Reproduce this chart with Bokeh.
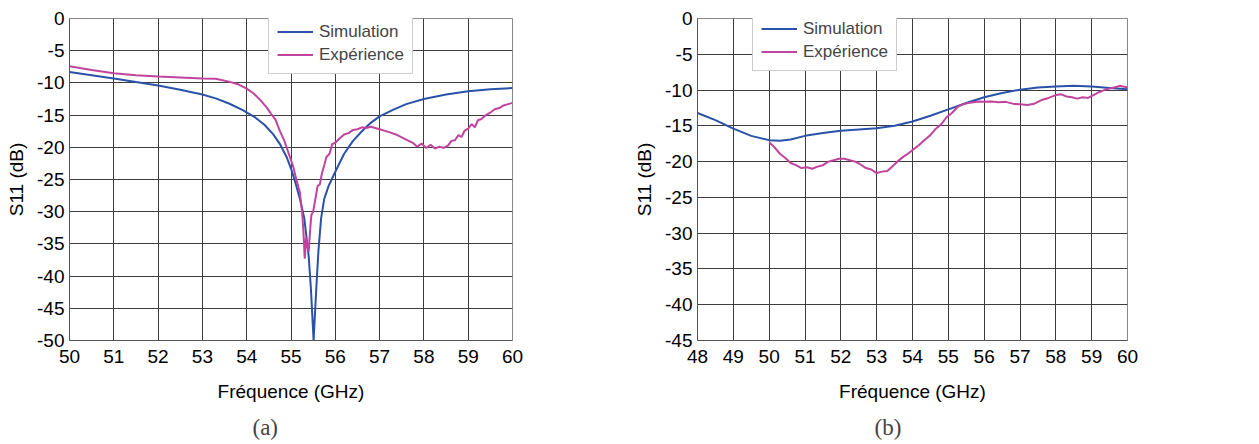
from bokeh.plotting import figure
from bokeh.layouts import row
from bokeh.models import Legend, LegendItem, Title, Range1d, FixedTicker
from bokeh.embed import file_html
from bokeh.resources import INLINE

# ---- data (a) ----
a_sim_f = [50, 50.5, 51, 51.5, 52, 52.5, 53, 53.3, 53.6, 53.9, 54.2, 54.4, 54.6, 54.75, 54.9, 55.0,
           55.1, 55.2, 55.3, 55.4, 55.45, 55.51, 55.57, 55.62, 55.68, 55.75, 55.85, 56.0, 56.2,
           56.4, 56.6, 56.8, 57.0, 57.3, 57.6, 58.0, 58.5, 59.0, 59.5, 60.0]
a_sim_s = [-8.3, -8.8, -9.3, -9.85, -10.4, -11.05, -11.8, -12.4, -13.2, -14.2, -15.4, -16.5, -18.0,
           -19.5, -21.5, -23.3, -25.5, -28.0, -31.0, -37.0, -42.0, -50.0, -42.0, -36.0, -31.0, -28.0,
           -26.0, -23.8, -21.0, -19.0, -17.5, -16.2, -15.2, -14.2, -13.3, -12.5, -11.8, -11.3, -11.0,
           -10.8]
a_exp_f = [50, 50.5, 51, 51.5, 52, 52.5, 53, 53.3, 53.6, 53.8, 54, 54.15, 54.3, 54.45, 54.55, 54.65,
           54.75, 54.85, 54.95, 55.05, 55.12, 55.2, 55.25, 55.28, 55.31, 55.34, 55.37, 55.4, 55.43,
           55.46, 55.5, 55.55, 55.6, 55.65, 55.7, 55.75, 55.8, 55.87, 55.93, 56.0, 56.1, 56.2, 56.3,
           56.4, 56.5, 56.6, 56.7, 56.8, 57.0, 57.2, 57.4, 57.6, 57.75, 57.85, 57.95, 58.05, 58.15,
           58.25, 58.35, 58.45, 58.55, 58.62, 58.7, 58.78, 58.85, 58.92, 59.0, 59.08, 59.15, 59.22,
           59.3, 59.4, 59.5, 59.6, 59.7, 59.8, 59.9, 60.0]
a_exp_s = [-7.4, -8.0, -8.5, -8.8, -9.0, -9.15, -9.3, -9.35, -9.8, -10.2, -10.9, -11.6, -12.6, -13.8,
           -14.8, -15.7, -17.5, -19.0, -21.0, -23.0, -25.0, -27.0, -30.0, -33.0, -37.3, -34.0, -35.5,
           -36.2, -33.0, -30.5, -30.0, -28.0, -26.0, -25.8, -24.0, -22.8, -21.5, -21.0, -19.5, -19.3,
           -18.6, -18.0, -17.8, -17.3, -17.2, -16.9, -17.0, -16.8, -17.2, -17.6, -18.1, -18.8, -19.3,
           -19.9, -19.4, -20.1, -19.6, -20.2, -19.9, -20.1, -19.7, -19.0, -18.9, -18.1, -18.4, -17.4,
           -17.1, -16.4, -16.9, -15.8, -15.6, -15.0, -14.6, -14.1, -13.9, -13.5, -13.3, -13.1]

# ---- data (b) ----
b_sim_f = [48, 48.5, 49, 49.5, 50, 50.3, 50.6, 51, 51.5, 52, 52.5, 53, 53.5, 54, 54.5, 55, 55.5,
           56, 56.5, 57, 57.5, 58, 58.5, 59, 59.5, 60]
b_sim_s = [-13.2, -14.2, -15.4, -16.4, -17.0, -17.1, -16.9, -16.4, -16.0, -15.7, -15.5, -15.35,
           -15.0, -14.4, -13.6, -12.7, -11.8, -11.0, -10.4, -9.95, -9.65, -9.5, -9.4, -9.5, -9.7, -9.9]
b_exp_f = [50, 50.15, 50.3, 50.45, 50.6, 50.75, 50.9, 51.05, 51.2, 51.35, 51.5, 51.65, 51.8, 51.95,
           52.1, 52.25, 52.4, 52.55, 52.7, 52.85, 53.0, 53.15, 53.3, 53.45, 53.6, 53.75, 53.9, 54.05,
           54.2, 54.35, 54.5, 54.65, 54.8, 54.95, 55.1, 55.25, 55.4, 55.55, 55.7, 55.85, 56.0, 56.2,
           56.4, 56.6, 56.8, 57.0, 57.2, 57.4, 57.6, 57.8, 58.0, 58.15, 58.3, 58.45, 58.6, 58.75,
           58.9, 59.05, 59.2, 59.35, 59.5, 59.65, 59.8, 59.9, 60.0]
b_exp_s = [-17.3, -18.0, -18.9, -19.5, -20.2, -20.5, -20.9, -20.8, -21.0, -20.7, -20.5, -20.0, -19.8,
           -19.6, -19.6, -19.8, -20.0, -20.4, -20.9, -21.1, -21.6, -21.4, -21.3, -20.6, -19.9, -19.3,
           -18.8, -18.2, -17.6, -16.9, -16.3, -15.4, -14.8, -13.8, -13.2, -12.4, -12.0, -11.8, -11.7,
           -11.6, -11.65, -11.6, -11.7, -11.65, -11.9, -12.0, -12.1, -11.9, -11.4, -11.1, -10.7, -10.6,
           -10.9, -11.0, -11.2, -11.0, -11.1, -10.7, -10.3, -10.0, -9.8, -9.6, -9.4, -9.55, -9.6]

a_xticks = list(range(50, 61))
a_yticks = list(range(-50, 1, 5))
b_xticks = list(range(48, 61))
b_yticks = list(range(-45, 1, 5))

labels = ["Simulation", "Expérience"]
xlabel = "Fréquence (GHz)"
ylabel = "S11 (dB)"
captions = ["(a)", "(b)"]

BLUE = "#2a52a8"
MAG = "#c0449e"
FONT = "Liberation Sans"


def make(xf0, xf1, y0, xt, yt, sim_f, sim_s, exp_f, exp_s, mbl, mbr, fw, leg_loc, cap, cap_off):
    p = figure(frame_width=fw, frame_height=322, output_backend="svg", toolbar_location=None,
               min_border_left=mbl, min_border_right=mbr, min_border_top=18, min_border_bottom=6,
               x_range=Range1d(xf0, xf1), y_range=Range1d(y0, 0))
    p.background_fill_color = "white"
    p.outline_line_color = "#888888"
    for ax, ticks in ((p.xaxis[0], xt), (p.yaxis[0], yt)):
        ax.ticker = FixedTicker(ticks=ticks)
        ax.major_label_overrides = {t: str(t) for t in ticks}
        ax.major_tick_out = 0
        ax.major_tick_in = 0
        ax.minor_tick_out = 0
        ax.minor_tick_in = 0
        ax.axis_line_color = "#555555"
        ax.major_label_text_font = FONT
        ax.major_label_text_font_size = "19px"
        ax.major_label_text_color = "#000000"
        ax.axis_label_text_font = FONT
        ax.axis_label_text_font_size = "19px"
        ax.axis_label_text_font_style = "normal"
        ax.axis_label_text_color = "#000000"
    p.xaxis.axis_label = xlabel
    p.yaxis.axis_label = ylabel
    p.xaxis.major_label_standoff = 9
    p.yaxis.major_label_standoff = 5
    p.xaxis.axis_label_standoff = 15
    p.yaxis.axis_label_standoff = 7
    p.grid.grid_line_color = "#3c3c3c"
    p.grid.grid_line_width = 1
    p.xgrid.ticker = FixedTicker(ticks=xt)
    p.ygrid.ticker = FixedTicker(ticks=yt)

    r1 = p.line(sim_f, sim_s, color=BLUE, line_width=2)
    r2 = p.line(exp_f, exp_s, color=MAG, line_width=2)
    leg = Legend(items=[LegendItem(label=labels[0], renderers=[r1]),
                        LegendItem(label=labels[1], renderers=[r2])],
                 location=leg_loc, label_text_font=FONT, label_text_font_size="17px",
                 border_line_color="#999999", background_fill_alpha=1.0,
                 glyph_width=36, glyph_height=21, spacing=2, padding=8, margin=0,
                 label_standoff=6)
    p.add_layout(leg)
    t = Title(text=cap, text_font="Liberation Serif", text_font_size="23px",
              text_font_style="normal", align="left", offset=cap_off, standoff=16)
    p.add_layout(t, "below")
    return p


pa = make(50, 60, -50, a_xticks, a_yticks, a_sim_f, a_sim_s, a_exp_f, a_exp_s,
          69, 108, 443, (199, 266), captions[0], 183)
pb = make(48, 60, -45, b_xticks, b_yticks, b_sim_f, b_sim_s, b_exp_f, b_exp_s,
          77, 124, 430, (55, 269), captions[1], 177)

layout = row(pa, pb)
open("out.html", "w").write(file_html(layout, INLINE))
